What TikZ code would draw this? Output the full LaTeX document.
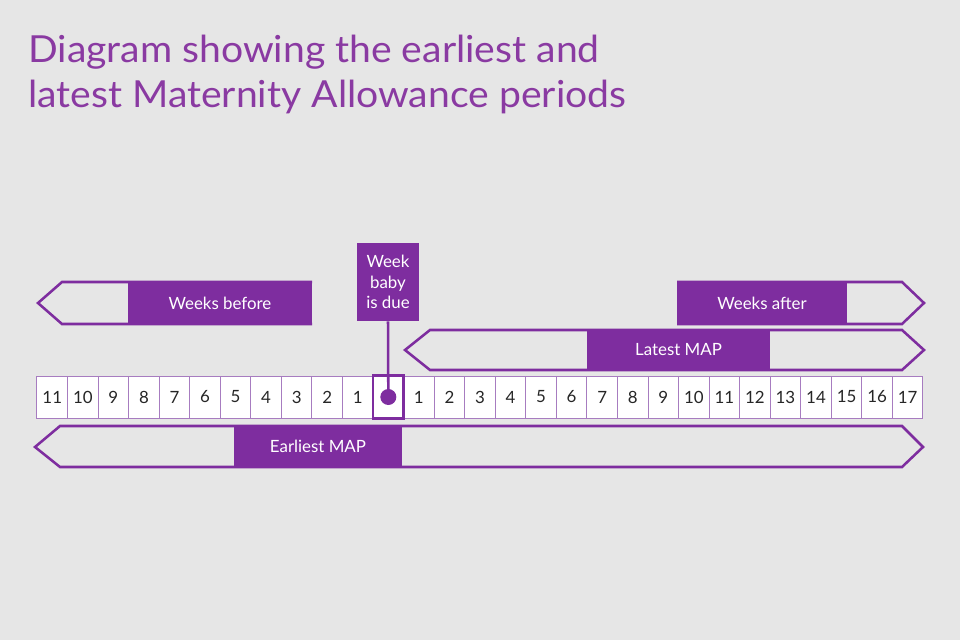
\documentclass[tikz,border=0pt]{standalone}
\usepackage{fontspec}
\setmainfont{Lato}
\newfontfamily\titlefont[FakeStretch=1.05]{Lato}
\usepackage{tikz}
\usetikzlibrary{positioning}
\usepackage{xcolor}
\definecolor{mapPurple}{HTML}{7E2D9F}
\definecolor{mapTitle}{HTML}{8A3AA2}
\definecolor{mapLine}{HTML}{A77CC0}
\definecolor{mapBg}{HTML}{E6E6E6}

\begin{document}
\begin{tikzpicture}[
    x=0.025cm, y=-0.025cm,
    every node/.style={font=\fontsize{12}{14}\selectfont},
    cell/.style={draw=mapLine, line width=0.7pt, fill=white, minimum width=0.764cm, minimum height=1.05cm, inner sep=0pt, text=black!85},
    duecell/.style={draw=mapPurple, line width=1.8pt, minimum width=0.764cm, minimum height=1.07cm, inner sep=0pt},
    dot/.style={circle, fill=mapPurple, minimum size=0.4cm, inner sep=0pt},
    tag/.style={fill=mapPurple, text=white, minimum height=1.05cm, inner sep=0pt},
    banner/.style={draw=mapPurple, line width=1.8pt, line join=miter},
    stem/.style={draw=mapPurple, line width=1.8pt}
]
    \fill[mapBg] (0,0) rectangle (960,640);
    \useasboundingbox (0,0) rectangle (960,640);

    \node[anchor=north west, inner sep=0pt, align=left, text=mapTitle,
          font=\titlefont\fontsize{26.5}{32}\selectfont] (title) at (28,35)
        {Diagram showing the earliest and\\latest Maternity Allowance periods};

    % banners
    \draw[banner] (312,282) -- (62,282) -- (38,303) -- (62,324) -- (312,324);
    \draw[banner] (677,282) -- (902,282) -- (924,303) -- (902,324) -- (677,324);
    \draw[banner] (430,330) -- (902,330) -- (924,350) -- (902,370) -- (430,370) -- (405,350) -- cycle;
    \draw[banner] (60,426) -- (902,426) -- (923,447) -- (902,467) -- (60,467) -- (35,447) -- cycle;

    \node[tag, minimum width=4.6cm] (before) at (220,303) {Weeks before};
    \node[tag, minimum width=4.25cm] (after) at (762,303) {Weeks after};
    \node[tag, minimum width=4.575cm] (latest) at (678.5,350) {Latest MAP};
    \node[tag, minimum width=4.2cm, minimum height=1.08cm] (earliest) at (318,446.5) {Earliest MAP};

    % week cells
    \foreach \lab [count=\i from 0] in {11,10,9,8,7,6,5,4,3,2,1,{},1,2,3,4,5,6,7,8,9,10,11,12,13,14,15,16,17}
        \node[cell] (c\i) at ({37+(\i+0.5)*30.55},397) {\lab};

    \node[duecell] (due) at (c11) {};
    \node[dot] (dot) at (due.center) {};
    \node[tag, minimum width=1.55cm, minimum height=1.95cm, align=center,
          font=\fontsize{12}{14.5}\selectfont] (duebox) at (388,282) {Week\\baby\\is due};
    \draw[stem] (duebox.south) -- (dot.center);
\end{tikzpicture}
\end{document}
